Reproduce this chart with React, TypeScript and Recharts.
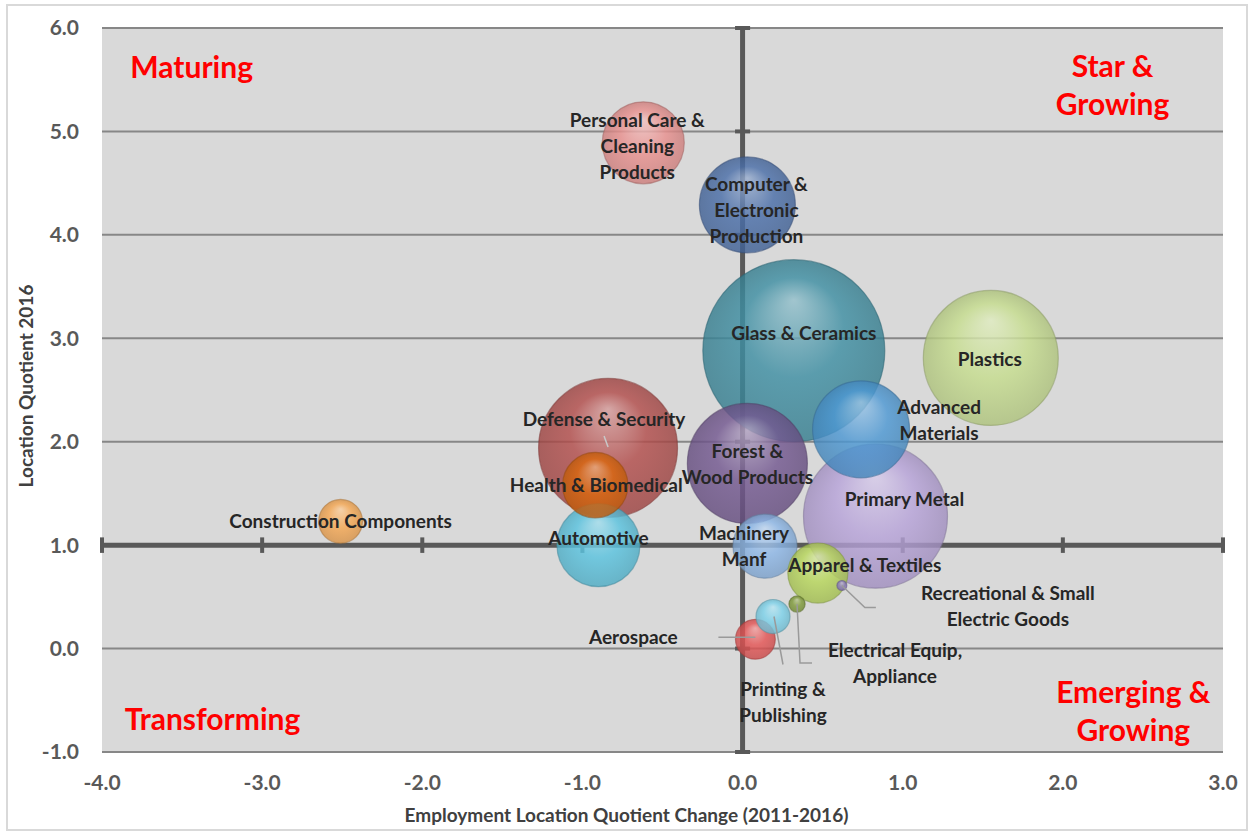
import React from 'react';
import {
  ScatterChart,
  Scatter,
  XAxis,
  YAxis,
  ZAxis,
  CartesianGrid,
  ReferenceLine,
  ReferenceDot,
} from 'recharts';

// ---- data ----
const industries = [
  'Glass & Ceramics',
  'Primary Metal',
  'Defense & Security',
  'Plastics',
  'Forest & Wood Products',
  'Advanced Materials',
  'Computer & Electronic Production',
  'Automotive',
  'Personal Care & Cleaning Products',
  'Health & Biomedical',
  'Machinery Manf',
  'Apparel & Textiles',
  'Construction Components',
  'Aerospace',
  'Printing & Publishing',
  'Electrical Equip, Appliance',
  'Recreational & Small Electric Goods',
];
const lqChange = [0.32, 0.83, -0.84, 1.55, 0.03, 0.74, 0.03, -0.9, -0.62, -0.92, 0.14, 0.47, -2.51, 0.08, 0.19, 0.34, 0.62];
const lq2016 = [2.88, 1.28, 1.94, 2.81, 1.79, 2.12, 4.29, 1.0, 4.89, 1.58, 0.99, 0.73, 1.23, 0.09, 0.31, 0.43, 0.61];
const bubbleSize = [100, 62.6, 58.3, 55.0, 43.5, 28.4, 27.8, 20.8, 20.3, 12.9, 12.4, 10.9, 5.8, 4.8, 3.5, 0.8, 0.3];

const xTicks = [-4, -3, -2, -1, 0, 1, 2, 3];
const yTicks = [-1, 0, 1, 2, 3, 4, 5, 6];

const quadrants = [
  { lines: ['Maturing'], x: -3.44, y: 5.61 },
  { lines: ['Star &', 'Growing'], x: 2.31, y: 5.44 },
  { lines: ['Transforming'], x: -3.31, y: -0.69 },
  { lines: ['Emerging &', 'Growing'], x: 2.44, y: -0.61 },
];

// ---- styling / layout ----
const palette = [
  '#3f8fa3', '#b7a3d9', '#b24d4b', '#c6dd8e', '#735890', '#4d98d3', '#4a6ea8', '#5ac3df', '#e8908e',
  '#d8670f', '#8cb6e6', '#b7d65a', '#f5a752', '#e45454', '#7dd2ea', '#7f9a3a', '#8e7cc4',
];

// label text lines, offset from bubble centre (px), optional leader polyline (px offsets)
const labelLayout: Record<string, { lines: string[]; dx: number; dy: number; leader?: number[][]; leaderColor?: string }> = {
  'Glass & Ceramics': { lines: ['Glass & Ceramics'], dx: 10, dy: -17 },
  'Primary Metal': { lines: ['Primary Metal'], dx: 29, dy: -16 },
  'Defense & Security': { lines: ['Defense & Security'], dx: -4, dy: -28, leader: [[-4, -12], [0, -1]], leaderColor: '#c8c8c8' },
  'Plastics': { lines: ['Plastics'], dx: -1, dy: 2 },
  'Forest & Wood Products': { lines: ['Forest &', 'Wood Products'], dx: 0, dy: 2 },
  'Advanced Materials': { lines: ['Advanced', 'Materials'], dx: 78, dy: -8 },
  'Computer & Electronic Production': { lines: ['Computer &', 'Electronic', 'Production'], dx: 9, dy: 6 },
  'Automotive': { lines: ['Automotive'], dx: 0, dy: -6 },
  'Personal Care & Cleaning Products': { lines: ['Personal Care &', 'Cleaning', 'Products'], dx: -6, dy: 4 },
  'Health & Biomedical': { lines: ['Health & Biomedical'], dx: 1, dy: 1 },
  'Machinery Manf': { lines: ['Machinery', 'Manf'], dx: -21, dy: 1 },
  'Apparel & Textiles': { lines: ['Apparel & Textiles'], dx: 47, dy: -7 },
  'Construction Components': { lines: ['Construction Components'], dx: 0, dy: 1 },
  'Aerospace': { lines: ['Aerospace'], dx: -122, dy: -1, leader: [[-37, -2], [0, -2]] },
  'Printing & Publishing': { lines: ['Printing &', 'Publishing'], dx: 10, dy: 86, leader: [[1, 0], [10, 48]] },
  'Electrical Equip, Appliance': { lines: ['Electrical Equip,', 'Appliance'], dx: 98, dy: 60, leader: [[0, 0], [3, 59], [15, 59]] },
  'Recreational & Small Electric Goods': { lines: ['Recreational & Small', 'Electric Goods'], dx: 166, dy: 22, leader: [[0, 0], [23, 22], [34, 22]] },
};

const data = industries.map((name, i) => ({
  name,
  x: lqChange[i],
  y: lq2016[i],
  size: bubbleSize[i],
  idx: i,
}));

const FONT = "Lato, 'Open Sans', 'Liberation Sans', sans-serif";
const AXIS_DARK = '#595959';
const TEXT_NUDGE = -2; // baseline correction for the substitute font

function mix(hex: string, target: number, amt: number) {
  const n = parseInt(hex.slice(1), 16);
  const ch = [(n >> 16) & 255, (n >> 8) & 255, n & 255].map(c => Math.round(c + (target - c) * amt));
  return '#' + ch.map(c => c.toString(16).padStart(2, '0')).join('');
}

const Bubble = (props: any) => {
  const { cx, cy, payload } = props;
  const r = props.width ? props.width / 2 : Math.sqrt(Math.max(props.size || 0, 0) / Math.PI);
  const base = palette[payload.idx];
  const id = `bub-${payload.idx}`;
  return (
    <g>
      <defs>
        <radialGradient id={id} cx="50%" cy="50%" r="50%" fx="50%" fy="22%">
          <stop offset="0%" stopColor={mix(base, 255, 0.45)} />
          <stop offset="55%" stopColor={base} />
          <stop offset="100%" stopColor={mix(base, 0, 0.12)} />
        </radialGradient>
      </defs>
      <circle cx={cx} cy={cy} r={r} fill={`url(#${id})`} fillOpacity={0.82} stroke={mix(base, 0, 0.3)} strokeOpacity={0.55} strokeWidth={1.2} />
    </g>
  );
};

const BubbleLabel = (props: any) => {
  const { cx, cy, payload } = props;
  const lay = labelLayout[payload.name];
  if (!lay) return <g />;
  const lh = 26;
  const tx = cx + lay.dx;
  const ty = cy + lay.dy + TEXT_NUDGE - ((lay.lines.length - 1) * lh) / 2;
  return (
    <g>
      {lay.leader && (
        <polyline
          points={lay.leader.map(p => `${cx + p[0]},${cy + p[1]}`).join(' ')}
          fill="none"
          stroke={lay.leaderColor || '#9a9a9a'}
          strokeWidth={1.5}
        />
      )}
      <text
        x={tx}
        y={ty}
        textAnchor="middle"
        dominantBaseline="central"
        fontFamily={FONT}
        fontWeight={700}
        fontSize={19}
        fill="#262626"
      >
        {lay.lines.map((l, i) => (
          <tspan key={i} x={tx} dy={i === 0 ? 0 : lh}>
            {l}
          </tspan>
        ))}
      </text>
    </g>
  );
};

const quadShape = (lines: string[]) => (p: any) => {
  const lh = 38;
  const y0 = p.cy + TEXT_NUDGE - ((lines.length - 1) * lh) / 2;
  return (
    <text x={p.cx} y={y0} textAnchor="middle" dominantBaseline="central" fontFamily={FONT} fontWeight={700} fontSize={30} fill="#ff0000">
      {lines.map((l, i) => (
        <tspan key={i} x={p.cx} dy={i === 0 ? 0 : lh}>
          {l}
        </tspan>
      ))}
    </text>
  );
};

const XTitle = (p: any) => {
  const vb = p.viewBox || {};
  return (
    <text x={vb.x + vb.width / 2 - 36} y={814} textAnchor="middle" dominantBaseline="central" fontFamily={FONT} fontWeight={700} fontSize={19} fill="#404040">
      Employment Location Quotient Change (2011-2016)
    </text>
  );
};

const YTitle = (p: any) => {
  const vb = p.viewBox || {};
  const cy = vb.y + vb.height / 2 - 4;
  return (
    <text x={25} y={cy} transform={`rotate(-90, 25, ${cy})`} textAnchor="middle" dominantBaseline="central" fontFamily={FONT} fontWeight={700} fontSize={19} fill="#404040">
      Location Quotient 2016
    </text>
  );
};

export default function App() {
  const tickStyle = { fill: AXIS_DARK, fontSize: 21, fontWeight: 700, fontFamily: FONT };
  return (
    <div style={{ position: 'absolute', left: 0, top: 0, width: 1250, height: 831, background: '#fff' }}>
      <div style={{ position: 'absolute', left: 6, top: 4, width: 1238, height: 823, border: '2px solid #d9d9d9' }} />
      <div style={{ position: 'absolute', left: 0, top: 0 }}>
        <ScatterChart width={1250} height={831} margin={{ top: 28, right: 27, bottom: 0, left: 0 }}>
          <CartesianGrid vertical={false} fill="#d9d9d9" stroke="#878787" strokeWidth={2} fillOpacity={1} />
          <XAxis
            type="number"
            dataKey="x"
            domain={[-4, 3]}
            ticks={xTicks}
            tickFormatter={(v: number) => v.toFixed(1)}
            axisLine={false}
            tickLine={false}
            tick={tickStyle}
            tickMargin={17}
            height={79}
            interval={0}
            label={{ content: XTitle }}
          />
          <YAxis
            type="number"
            dataKey="y"
            domain={[-1, 6]}
            ticks={yTicks}
            tickFormatter={(v: number) => v.toFixed(1)}
            axisLine={false}
            tickLine={false}
            tick={tickStyle}
            tickMargin={17}
            width={102}
            interval={0}
            label={{ content: YTitle }}
          />
          <ZAxis type="number" dataKey="size" domain={[0, 100]} range={[0, Math.PI * 91 * 91]} />

          <ReferenceLine y={1} stroke={AXIS_DARK} strokeWidth={5} />
          <ReferenceLine x={0} stroke={AXIS_DARK} strokeWidth={5} />
          {xTicks.map(t => (
            <ReferenceLine key={`xt${t}`} segment={[{ x: t, y: 0.925 }, { x: t, y: 1.075 }]} stroke={AXIS_DARK} strokeWidth={4} />
          ))}
          {yTicks.map(t => (
            <ReferenceLine key={`yt${t}`} segment={[{ x: -0.047, y: t }, { x: 0.047, y: t }]} stroke={AXIS_DARK} strokeWidth={4} />
          ))}

          <Scatter data={data} shape={Bubble} isAnimationActive={false} />
          <Scatter data={data} shape={BubbleLabel} isAnimationActive={false} />

          {quadrants.map((q, i) => (
            <ReferenceDot key={`q${i}`} x={q.x} y={q.y} r={0} shape={quadShape(q.lines)} />
          ))}
        </ScatterChart>
      </div>
    </div>
  );
}
